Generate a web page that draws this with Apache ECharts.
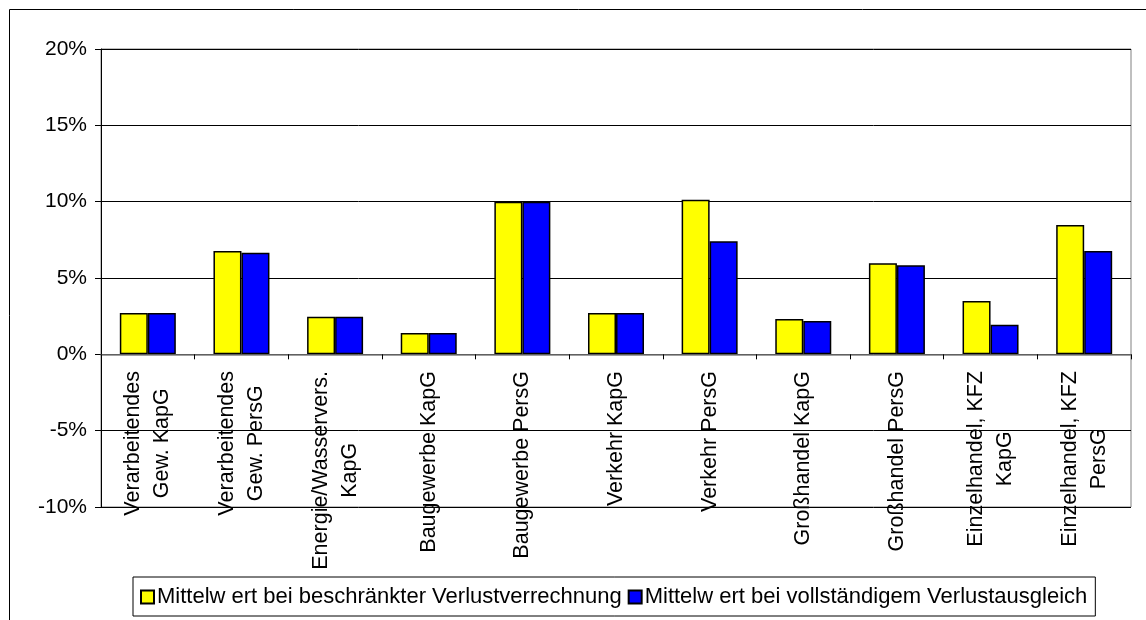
<!DOCTYPE html>
<html>
<head>
<meta charset="utf-8">
<script src="https://cdn.jsdelivr.net/npm/echarts@6/dist/echarts.min.js"></script>
<style>
html,body{margin:0;padding:0;background:#fff;}
#c{width:1146px;height:620px;}
</style>
</head>
<body>
<div id="c"></div>
<script>
const categories = [
  "Verarbeitendes\nGew. KapG",
  "Verarbeitendes\nGew. PersG",
  "Energie/Wasservers.\nKapG",
  "Baugewerbe KapG",
  "Baugewerbe PersG",
  "Verkehr KapG",
  "Verkehr PersG",
  "Großhandel KapG",
  "Großhandel PersG",
  "Einzelhandel, KFZ\nKapG",
  "Einzelhandel, KFZ\nPersG"
];
const seriesNames = [
  "Mittelw ert bei beschränkter Verlustverrechnung",
  "Mittelw ert bei vollständigem Verlustausgleich"
];
const beschraenkt = [2.7, 6.77, 2.46, 1.40, 10.0, 2.7, 10.12, 2.31, 5.97, 3.5, 8.47];
const vollstaendig = [2.7, 6.66, 2.46, 1.40, 10.0, 2.7, 7.40, 2.18, 5.84, 1.94, 6.77];
const yTicks = { min: -10, max: 20, interval: 5 };

const FONT = "'Liberation Sans', Arial, sans-serif";
const chart = echarts.init(document.getElementById('c'), null, {renderer: 'canvas'});
chart.setOption({
  animation: false,
  backgroundColor: '#fff',
  graphic: [{
    type: 'rect', z: -10,
    shape: {x: 9.5, y: 9.5, width: 1200, height: 700},
    style: {fill: 'none', stroke: '#000', lineWidth: 1}
  }],
  grid: {
    left: 101, right: 15, top: 49, bottom: 113,
    containLabel: false, outerBoundsMode: 'none',
    show: true, borderColor: '#808080', borderWidth: 1, backgroundColor: 'transparent'
  },
  legend: {
    left: 133, top: 577,
    padding: [9, 8, 8, 7],
    itemGap: 6,
    itemWidth: 13, itemHeight: 13,
    borderColor: '#000', borderWidth: 1,
    icon: 'rect',
    textStyle: {fontFamily: FONT, fontSize: 22, color: '#000', padding: [0, 0, 0, -2]},
    data: seriesNames
  },
  xAxis: {
    type: 'category',
    data: categories,
    axisLine: {onZero: true, lineStyle: {color: '#808080', width: 1.5}},
    axisTick: {show: true, interval: 0, length: 5, lineStyle: {color: '#000'}},
    axisLabel: {
      interval: 0, rotate: 90, margin: -136,
      fontFamily: FONT, fontSize: 21, color: '#000',
      formatter: function (v) {
        return v.split('\n').map(function (l) { return '{c|' + l + '}'; }).join('\n');
      },
      rich: {c: {align: 'center', fontFamily: FONT, fontSize: 21.5, lineHeight: 29, color: '#000'}}
    },
    splitLine: {show: false},
    z: 5
  },
  yAxis: {
    type: 'value',
    min: yTicks.min, max: yTicks.max, interval: yTicks.interval,
    axisLine: {show: true, lineStyle: {color: '#000', width: 1}},
    axisTick: {show: true, length: 6, lineStyle: {color: '#000'}},
    axisLabel: {
      formatter: '{value}%', margin: 14,
      fontFamily: FONT, fontSize: 21, color: '#000'
    },
    splitLine: {show: true, lineStyle: {color: '#000', width: 1}}
  },
  series: [
    {
      name: seriesNames[0], type: 'bar', data: beschraenkt,
      barWidth: 28, barGap: '0%',
      itemStyle: {color: '#ffff00', borderColor: '#000', borderWidth: 1.5}
    },
    {
      name: seriesNames[1], type: 'bar', data: vollstaendig,
      barWidth: 28, barGap: '0%',
      itemStyle: {color: '#0000ff', borderColor: '#000', borderWidth: 1.5}
    }
  ]
});
</script>
</body>
</html>
